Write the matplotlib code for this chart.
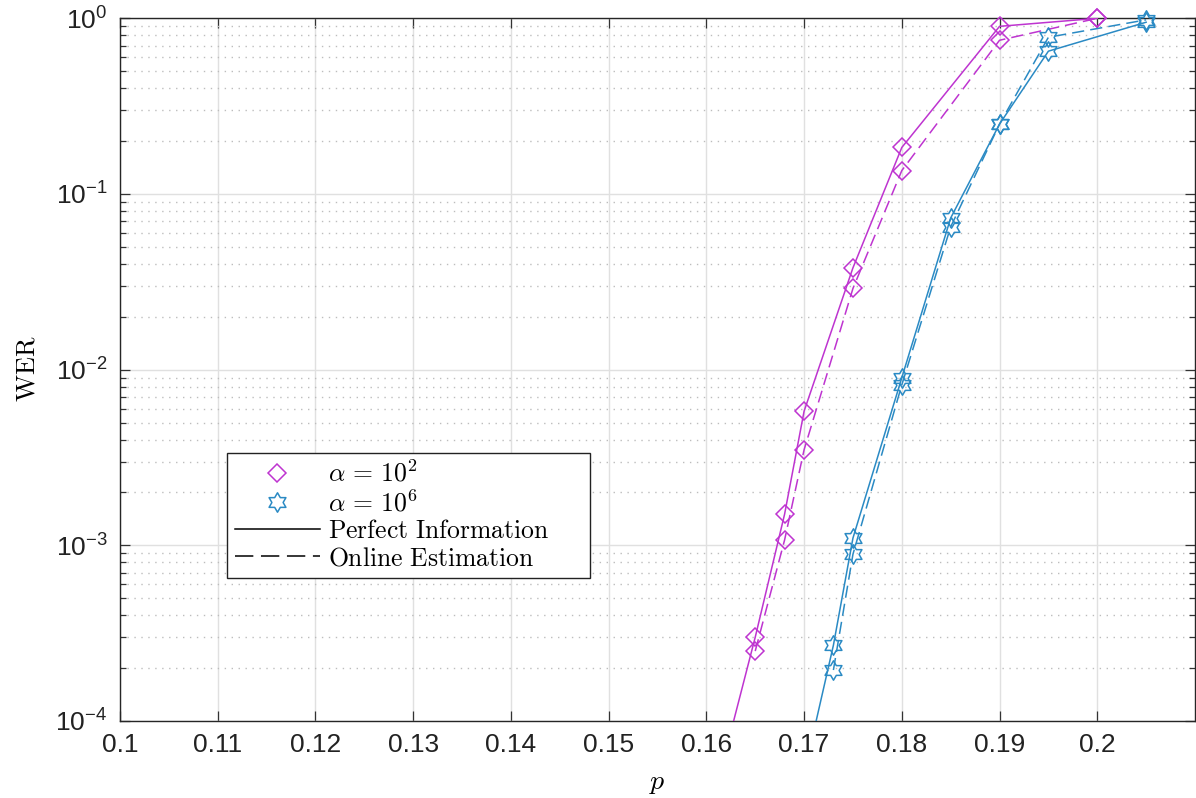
import numpy as np
import matplotlib
matplotlib.use("Agg")
import matplotlib.pyplot as plt
from matplotlib.lines import Line2D
from matplotlib.path import Path
from matplotlib.ticker import LogLocator, NullFormatter, FixedLocator

# ---------------- data ----------------
p_a2_perfect = [0.16, 0.165, 0.168, 0.17, 0.175, 0.18, 0.19, 0.2]
wer_a2_perfect = [2.5e-5, 3.0e-4, 1.5e-3, 5.8e-3, 3.8e-2, 1.84e-1, 0.90, 1.0]
p_a2_online = [0.165, 0.168, 0.17, 0.175, 0.18, 0.19, 0.2]
wer_a2_online = [2.5e-4, 1.07e-3, 3.5e-3, 2.9e-2, 1.36e-1, 0.75, 1.0]

p_a6_perfect = [0.17, 0.173, 0.175, 0.18, 0.185, 0.19, 0.195, 0.205]
wer_a6_perfect = [5e-5, 2.7e-4, 1.1e-3, 9.0e-3, 7.3e-2, 0.25, 0.65, 0.95]
p_a6_online = [0.173, 0.175, 0.18, 0.185, 0.19, 0.195, 0.205]
wer_a6_online = [1.95e-4, 8.9e-4, 8.2e-3, 6.5e-2, 0.25, 0.78, 0.98]

x_ticks = [0.1, 0.11, 0.12, 0.13, 0.14, 0.15, 0.16, 0.17, 0.18, 0.19, 0.2]
x_tick_labels = ["0.1", "0.11", "0.12", "0.13", "0.14", "0.15", "0.16", "0.17", "0.18", "0.19", "0.2"]
legend_labels = [r"$\alpha\,=\,10^2$", r"$\alpha\,=\,10^6$",
                 r"$\mathrm{Perfect\ Information}$", r"$\mathrm{Online\ Estimation}$"]

# ---------------- style ----------------
plt.rcParams["font.family"] = ["Liberation Sans", "DejaVu Sans"]
plt.rcParams["mathtext.fontset"] = "cm"

c_mag = "#BE34D0"
c_blue = "#2A8AC4"
dash = (8, 4)

# hexagram marker
ang_o = np.deg2rad(90 + 60 * np.arange(6))
ang_i = np.deg2rad(120 + 60 * np.arange(6))
verts = []
for ao, ai in zip(ang_o, ang_i):
    verts.append((np.cos(ao), np.sin(ao)))
    verts.append((np.cos(ai) / np.sqrt(3), np.sin(ai) / np.sqrt(3)))
verts.append(verts[0])
hexagram = Path(verts, closed=True)

W, H = 1196, 798
fig = plt.figure(figsize=(W / 100, H / 100), dpi=100)
ax = fig.add_axes([120 / W, 1 - 721 / H, 1075 / W, (721 - 18.3) / H])

ymin, ymax = 1e-4, 1.0


def draw(p, w, color, marker, ms, ls):
    p = np.asarray(p)
    w = np.asarray(w)
    line, = ax.plot(p, w, color=color, lw=1.1, linestyle=ls, zorder=3)
    if ls == "--":
        line.set_dashes(dash)
    inside = w >= ymin
    ax.plot(p[inside], w[inside], linestyle="none", marker=marker, ms=ms,
            mfc="none", mec=color, mew=1.1, clip_on=False, zorder=4)


draw(p_a2_perfect, wer_a2_perfect, c_mag, "D", 9, "-")
draw(p_a2_online, wer_a2_online, c_mag, "D", 9, "--")
draw(p_a6_perfect, wer_a6_perfect, c_blue, hexagram, 14, "-")
draw(p_a6_online, wer_a6_online, c_blue, hexagram, 14, "--")

ax.set_yscale("log")
ax.set_xlim(0.1, 0.21)
ax.set_ylim(ymin, ymax)
ax.xaxis.set_major_locator(FixedLocator(x_ticks))
ax.set_xticklabels(x_tick_labels)
ax.yaxis.set_major_locator(LogLocator(base=10, numticks=10))
ax.yaxis.set_minor_locator(LogLocator(base=10, subs=np.arange(2, 10), numticks=20))
ax.yaxis.set_minor_formatter(NullFormatter())

ax.grid(True, which="major", color="#e0e0e0", lw=1.0, ls="-", zorder=0)
ax.grid(True, which="minor", axis="y", color="#bdbdbd", lw=1.0, ls=(0, (1, 4)), zorder=0)
ax.set_axisbelow(True)

ax.tick_params(which="both", direction="in", top=True, right=True, color="#333333", width=0.9)
ax.tick_params(which="major", length=7, labelsize=19, pad=9, labelcolor="#222222")
ax.tick_params(which="minor", length=4)
for s in ax.spines.values():
    s.set_color("#262626")
    s.set_linewidth(1.0)

fig.text(27.5 / W, 1 - 369 / H, r"$\mathrm{WER}$", rotation=90, ha="center", va="center",
         fontsize=19)
fig.text(657 / W, 1 - 789 / H, r"$p$", ha="center", va="baseline", fontsize=20)

handles = [
    Line2D([], [], linestyle="none", marker="D", ms=9, mfc="none", mec=c_mag, mew=1.1),
    Line2D([], [], linestyle="none", marker=hexagram, ms=14, mfc="none", mec=c_blue, mew=1.1),
    Line2D([], [], color="black", lw=1.1, ls="-"),
    Line2D([], [], color="black", lw=1.1, ls="--", dashes=(12, 5)),
]
leg = ax.legend(handles, legend_labels, loc="lower left",
                bbox_to_anchor=((227 - 120) / 1075, (721 - 578) / 703, (590 - 227) / 1075, 0.05),
                mode="expand", borderaxespad=0, fontsize=18.5, handlelength=3.3,
                handletextpad=0.32, borderpad=0.3, labelspacing=0.12,
                fancybox=False, framealpha=1, edgecolor="#222222")
leg.get_frame().set_linewidth(1.0)

fig.savefig("out.png", dpi=100)
